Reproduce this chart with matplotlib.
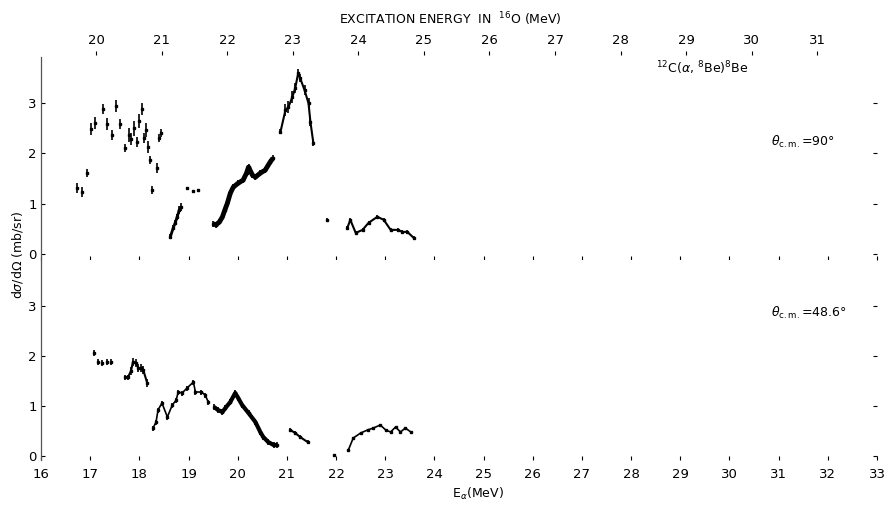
import numpy as np
import matplotlib
matplotlib.use('Agg')
import matplotlib.pyplot as plt

plt.rcParams['font.family'] = ['DejaVu Sans']

# lab energy ticks and excitation energy ticks
ealpha_ticks = list(range(16, 34))
ex_ticks = list(range(20, 32))
y_ticks = [0, 1, 2, 3]

# theta_cm = 90 deg (upper panel)
up_a_e = [16.73, 16.84, 16.94, 17.02, 17.10, 17.26, 17.34, 17.45, 17.53, 17.61,
          17.71, 17.79, 17.83, 17.89, 17.96, 18.00, 18.06, 18.10, 18.14, 18.18,
          18.22, 18.26, 18.36, 18.40, 18.44, 18.97, 19.10, 19.20]
up_a_s = [1.31, 1.23, 1.61, 2.48, 2.60, 2.88, 2.58, 2.37, 2.94, 2.58,
          2.10, 2.37, 2.29, 2.50, 2.23, 2.64, 2.88, 2.30, 2.47, 2.13,
          1.87, 1.27, 1.71, 2.30, 2.40, 1.31, 1.25, 1.27]
up_a_err = [0.10, 0.10, 0.08, 0.12, 0.12, 0.10, 0.12, 0.10, 0.12, 0.10,
            0.08, 0.14, 0.12, 0.15, 0.10, 0.14, 0.12, 0.10, 0.14, 0.12,
            0.08, 0.08, 0.10, 0.08, 0.08, 0.03, 0.03, 0.03]

up_b_e = [18.63, 18.69, 18.73, 18.77, 18.81, 18.85]
up_b_s = [0.34, 0.52, 0.62, 0.74, 0.87, 0.93]
up_b_err = [0.05, 0.05, 0.05, 0.06, 0.08, 0.08]

up_c_e = [19.50, 19.56, 19.63, 19.69, 19.74, 19.79, 19.85, 19.91, 20.01, 20.11,
          20.18, 20.22, 20.30, 20.36, 20.46, 20.56, 20.66, 20.72]
up_c_s = [0.60, 0.58, 0.64, 0.74, 0.88, 1.01, 1.21, 1.33, 1.41, 1.47,
          1.61, 1.73, 1.57, 1.53, 1.61, 1.67, 1.83, 1.91]
up_c_err = [0.06] * 18

up_d_e = [20.87, 20.97, 21.03, 21.11, 21.17, 21.23, 21.27, 21.36, 21.44, 21.48, 21.54]
up_d_s = [2.43, 2.86, 2.92, 3.12, 3.30, 3.60, 3.50, 3.26, 3.00, 2.62, 2.20]
up_d_err = [0.05, 0.12, 0.12, 0.12, 0.10, 0.08, 0.08, 0.10, 0.10, 0.08, 0.05]

up_e_e = [21.82, 22.23, 22.29, 22.40, 22.54, 22.66, 22.84, 22.97, 23.11, 23.25,
          23.35, 23.45, 23.58]
up_e_s = [0.68, 0.52, 0.68, 0.42, 0.48, 0.62, 0.74, 0.68, 0.48, 0.48,
          0.44, 0.44, 0.32]
up_e_err = [0.04] * 13

# theta_cm = 48.6 deg (lower panel)
lo_a_e = [17.08, 17.16, 17.24, 17.34, 17.43]
lo_a_s = [2.06, 1.88, 1.86, 1.88, 1.88]
lo_a_err = [0.06, 0.06, 0.06, 0.06, 0.06]

lo_b_e = [17.71, 17.77, 17.83, 17.87, 17.93, 17.98, 18.04, 18.08, 18.16]
lo_b_s = [1.58, 1.58, 1.70, 1.88, 1.86, 1.76, 1.76, 1.72, 1.46]
lo_b_err = [0.05, 0.05, 0.08, 0.08, 0.08, 0.08, 0.08, 0.08, 0.08]

lo_c_e = [18.28, 18.34, 18.38, 18.46, 18.57, 18.67, 18.75, 18.79, 18.87, 18.97,
          19.10, 19.14, 19.26, 19.34, 19.40]
lo_c_s = [0.56, 0.68, 0.92, 1.06, 0.78, 1.02, 1.12, 1.28, 1.26, 1.36,
          1.48, 1.28, 1.28, 1.22, 1.08]
lo_c_err = [0.05] * 15

lo_d_e = [19.52, 19.60, 19.69, 19.75, 19.85, 19.95, 20.01, 20.09, 20.22, 20.36,
          20.46, 20.52, 20.62, 20.73, 20.80]
lo_d_s = [0.98, 0.92, 0.88, 0.96, 1.08, 1.26, 1.16, 1.02, 0.86, 0.68,
          0.48, 0.38, 0.28, 0.22, 0.22]
lo_d_err = [0.06] * 15

lo_e_e = [21.07, 21.17, 21.27, 21.42]
lo_e_s = [0.52, 0.46, 0.38, 0.28]
lo_e_err = [0.04, 0.04, 0.04, 0.04]

lo_f_e = [21.95, 22.25, 22.35, 22.50, 22.64, 22.76, 22.90, 23.01, 23.11, 23.21,
          23.31, 23.41, 23.52]
lo_f_s = [0.02, 0.12, 0.36, 0.46, 0.52, 0.56, 0.62, 0.52, 0.48, 0.58,
          0.48, 0.56, 0.48]
lo_f_err = [0.03] * 13


def draw(ax, e, s, err, lw):
    if lw > 0:
        ax.plot(e, s, color='k', lw=lw, solid_capstyle='butt')
    ax.errorbar(e, s, yerr=err, fmt='s', ms=2, color='k',
                elinewidth=1.2, capsize=0)


fig = plt.figure(figsize=(8.89, 5.05), dpi=100)
ax_up = fig.add_axes([0.0461, 0.4851, 0.9404, 0.4020])
ax_lo = fig.add_axes([0.0461, 0.0891, 0.9404, 0.3960], sharex=ax_up)

draw(ax_up, up_a_e, up_a_s, up_a_err, 0)
draw(ax_up, up_b_e, up_b_s, up_b_err, 2.0)
draw(ax_up, up_c_e, up_c_s, up_c_err, 3.5)
draw(ax_up, up_d_e, up_d_s, up_d_err, 1.5)
draw(ax_up, up_e_e[:1], up_e_s[:1], up_e_err[:1], 0)
draw(ax_up, up_e_e[1:], up_e_s[1:], up_e_err[1:], 1.5)

draw(ax_lo, lo_a_e, lo_a_s, lo_a_err, 0)
draw(ax_lo, lo_b_e, lo_b_s, lo_b_err, 1.5)
draw(ax_lo, lo_c_e, lo_c_s, lo_c_err, 1.2)
draw(ax_lo, lo_d_e, lo_d_s, lo_d_err, 3.0)
draw(ax_lo, lo_e_e, lo_e_s, lo_e_err, 1.5)
draw(ax_lo, lo_f_e[:1], lo_f_s[:1], lo_f_err[:1], 0)
draw(ax_lo, lo_f_e[1:], lo_f_s[1:], lo_f_err[1:], 1.2)

ax_up.set_xlim(16, 33)
ax_up.set_ylim(-0.12, 3.92)
ax_lo.set_ylim(-0.08, 3.92)

for ax in (ax_up, ax_lo):
    for side in ('top', 'right', 'bottom'):
        ax.spines[side].set_visible(False)
    ax.spines['left'].set_color('#555555')
    ax.spines['left'].set_linewidth(0.9)
    ax.set_yticks(y_ticks)
    ax.set_xticks(ealpha_ticks)
    ax.tick_params(axis='y', direction='in', length=3, width=0.8,
                   labelsize=9.5, pad=3, right=True)
    ax.tick_params(axis='x', direction='in', length=3, width=0.8,
                   labelsize=9.5, pad=6)
    ax.set_facecolor('white')

ax_up.tick_params(axis='x', labelbottom=False)

# excitation energy scale on top
sec = ax_up.secondary_xaxis(1.01, functions=(lambda e: 7.16 + 0.75 * e,
                                             lambda x: (x - 7.16) / 0.75))
sec.set_xticks(ex_ticks)
sec.spines['top'].set_visible(False)
sec.tick_params(direction='out', length=3, width=0.8, labelsize=9.5, pad=3)

fig.text(0.507, 1 - 19 / 505, 'EXCITATION ENERGY  IN  $^{16}$O (MeV)',
         ha='center', va='center', fontsize=9)
fig.text(0.538, 1 - 494 / 505, r'E$_{\alpha}$(MeV)', ha='center',
         va='center', fontsize=9)
fig.text(0.020, 1 - 255 / 505, r'd$\sigma$/d$\Omega$ (mb/sr)', ha='center',
         va='center', rotation=90, fontsize=9)

ax_up.text(28.5, 3.7, r'$^{12}$C($\alpha$, $^{8}$Be)$^{8}$Be', fontsize=9,
           ha='left', va='center')
ax_up.text(30.85, 2.23, r'$\theta_{\rm c.m.}$=90°', fontsize=9,
           ha='left', va='center')
ax_lo.text(30.85, 2.86, r'$\theta_{\rm c.m.}$=48.6°', fontsize=9,
           ha='left', va='center')

fig.savefig('out.png', dpi=100, facecolor='white')
